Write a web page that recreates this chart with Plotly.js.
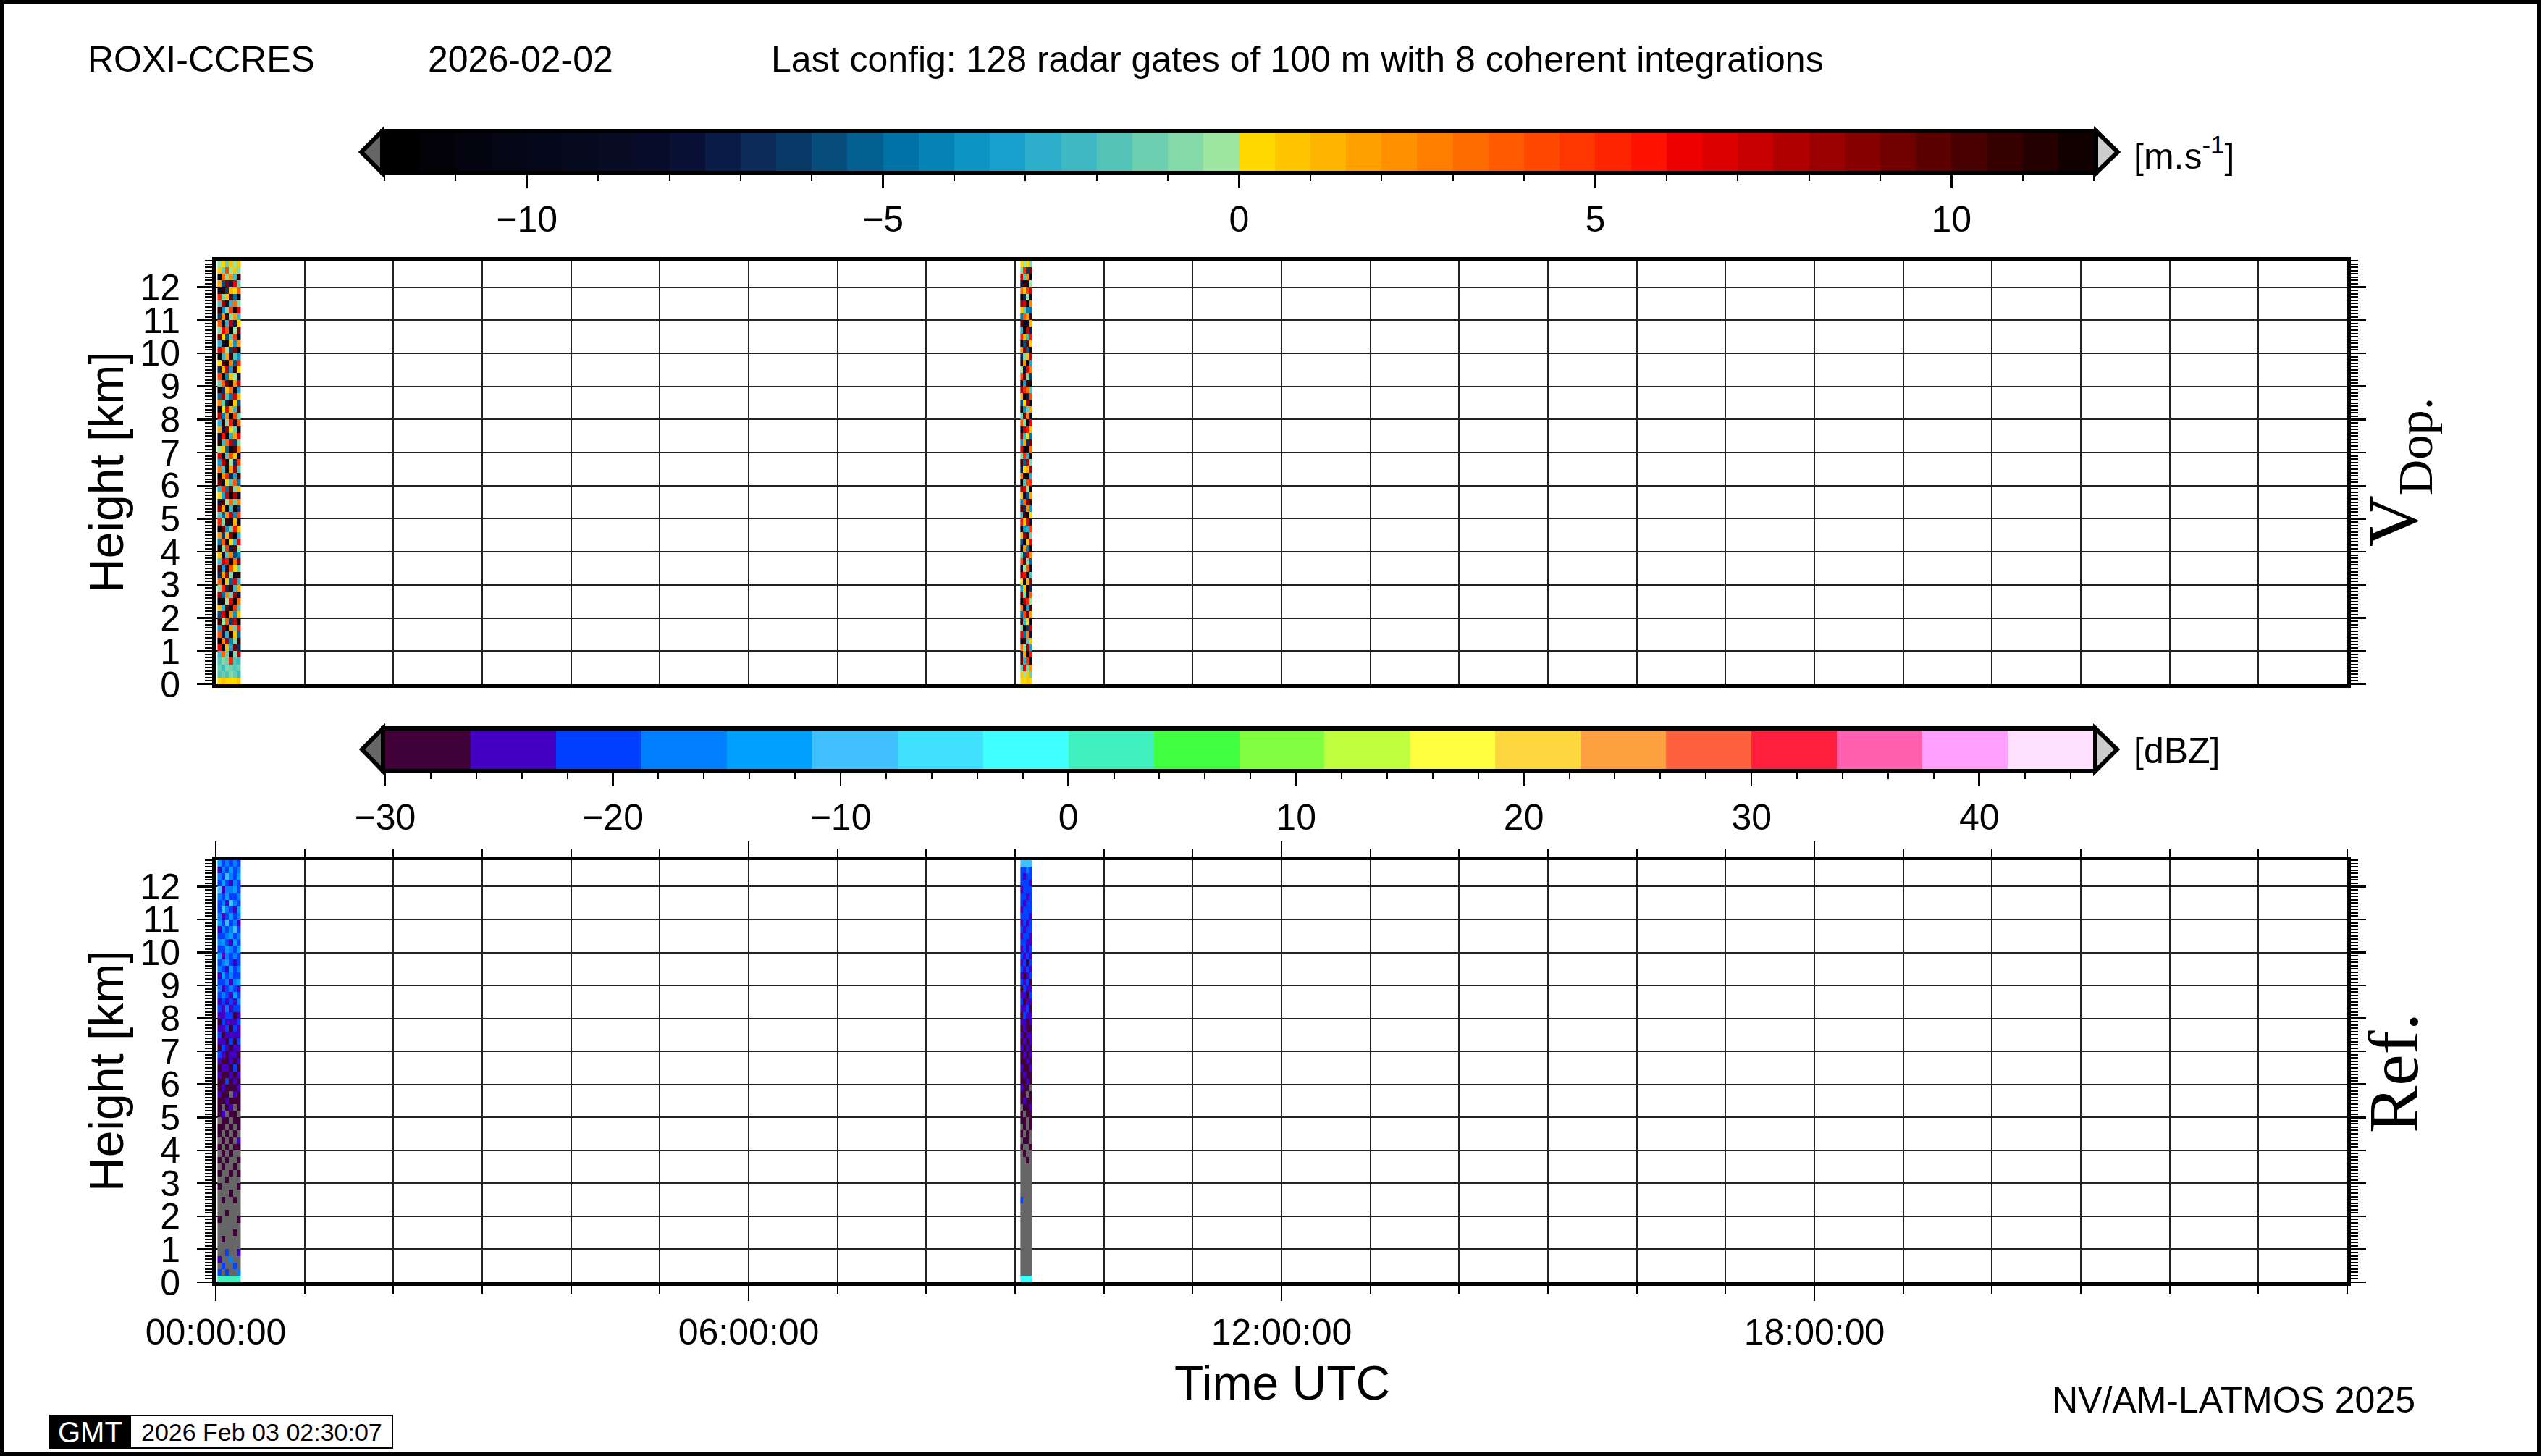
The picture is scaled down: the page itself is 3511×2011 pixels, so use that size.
<!DOCTYPE html>
<html>
<head>
<meta charset="utf-8">
<script src="https://cdn.plot.ly/plotly-3.0.1.min.js"></script>
<style>html,body{margin:0;padding:0;background:#fff;}#chart{width:3511px;height:2011px;}</style>
</head>
<body>
<div id="chart"></div>
<script>
// ---------------- DATA ----------------
const stationName = "ROXI-CCRES";
const dayLabel = "2026-02-02";
const configLabel = "Last config: 128 radar gates of 100 m with 8 coherent integrations";
const dayStart = "2026-02-02 00:00:00";
const dayEnd = "2026-02-03 00:00:00";
const timeTicks = ["2026-02-02 00:00:00","2026-02-02 06:00:00","2026-02-02 12:00:00","2026-02-02 18:00:00"];
const timeTickLabels = ["00:00:00","06:00:00","12:00:00","18:00:00"];

// velocity colour bins (0.5 m/s from -12 to 12)
const velBins = [-11.75,-11.25,-10.75,-10.25,-9.75,-9.25,-8.75,-8.25,-7.75,-7.25,-6.75,-6.25,-5.75,-5.25,-4.75,-4.25,-3.75,-3.25,-2.75,-2.25,-1.75,-1.25,-0.75,-0.25,
                 0.25,0.75,1.25,1.75,2.25,2.75,3.25,3.75,4.25,4.75,5.25,5.75,6.25,6.75,7.25,7.75,8.25,8.75,9.25,9.75,10.25,10.75,11.25,11.75];
const velColors = ["#000000","#020208","#03040f","#040615","#05081a","#060a1f","#070b24","#070c2a",
                   "#081035","#0a1c48","#0b2a58","#0a3b68","#074d7c","#036090","#0072a6","#0583b6",
                   "#0d93c4","#1aa0cc","#2eb0cc","#40b8c4","#55c4b8","#6bcfb0","#83daa8","#9de6a2",
                   "#ffd800","#ffc600","#ffb400","#ffa200","#ff9000","#ff7e00","#ff6c00","#ff5a00",
                   "#ff4800","#ff3600","#ff2400","#ff1200","#ee0000","#dc0000","#c80000","#b00000",
                   "#9a0000","#860000","#700000","#5c0000","#480000","#360000","#240000","#100000"];

// reflectivity colour bins (3.75 dBZ from -30 to 45), gray below range
const dbzBins = [-28.125,-24.375,-20.625,-16.875,-13.125,-9.375,-5.625,-1.875,1.875,5.625,9.375,13.125,16.875,20.625,24.375,28.125,31.875,35.625,39.375,43.125];
const dbzColors = ["#400038","#4200c0","#0040ff","#0080ff","#00a0ff","#40c0ff","#40e0ff","#40ffff","#40f0c0","#40ff40",
                   "#80ff40","#c0ff40","#ffff40","#ffd840","#ffa040","#ff6040","#ff2040","#ff60b0","#ffa0ff","#ffe0ff"];
const dbzBelowColor = "#666666";

// gate heights (km)
const heights = [0.1,0.3,0.5,0.7,0.9,1.1,1.3,1.5,1.7,1.9,2.1,2.3,2.5,2.7,2.9,3.1,3.3,3.5,3.7,3.9,4.1,4.3,4.5,4.7,4.9,5.1,5.3,5.5,5.7,5.9,6.1,6.3,
                 6.5,6.7,6.9,7.1,7.3,7.5,7.7,7.9,8.1,8.3,8.5,8.7,8.9,9.1,9.3,9.5,9.7,9.9,10.1,10.3,10.5,10.7,10.9,11.1,11.3,11.5,11.7,11.9,12.1,12.3,12.5,12.7];

// profile times
const timesA = ["2026-02-02 00:02:30","2026-02-02 00:05:06","2026-02-02 00:07:42","2026-02-02 00:10:18","2026-02-02 00:12:54","2026-02-02 00:15:30"];
const timesB = ["2026-02-02 09:04:36","2026-02-02 09:06:36","2026-02-02 09:08:36","2026-02-02 09:10:36"];

// Doppler velocity (m/s), rows = gates bottom->top
const velA = [
[0.3,0.6,0.2,0.4,0.1,0.7],[-1.6,-1.2,-1.8,-0.8,-1.4,-2.2],[-1.3,-2.1,-0.7,-1.5,-1.9,-1.1],[-1.8,-0.9,-1.4,5.2,-1.6,-2.4],
[-2.3,3.1,-1.2,-9.5,-0.6,7.8],[6.2,-10.4,1.3,-3.2,9.1,-6.8],[-11.2,2.7,7.5,-4.1,-0.8,10.6],[4.4,-7.3,-2.6,11.3,0.9,-5.5],
[-3.7,8.8,-9.9,1.8,-1.5,5.9],[10.2,-0.4,3.6,-6.1,7.1,-11.6],[-5.8,6.6,-11.1,2.2,-3.9,0.5],[1.1,-2.8,9.7,-8.4,4.8,-1.9],
[-9.2,11.8,-0.3,6.9,-10.7,3.3],[7.7,-4.6,2.9,-1.1,8.3,-7.9],[-0.9,5.3,-6.6,10.9,-2.4,1.6],[3.9,-11.9,0.7,-5.1,6.4,-3.0],
[-6.9,1.9,8.1,-0.6,-9.4,11.1],[9.6,-3.4,-7.8,4.1,0.2,-1.3],[-2.1,7.4,5.6,-10.1,3.1,8.7],[0.6,-8.9,-1.7,2.6,-5.9,-4.3],
[11.4,-1.0,4.6,-7.1,9.9,-0.2],[-4.8,3.8,-10.8,0.4,-2.9,6.1],[2.3,-6.3,1.4,8.6,-11.4,-2.7],[-10.3,9.3,-3.6,-1.4,5.5,0.8],
[5.1,-0.7,10.4,-8.1,1.2,-9.7],[-1.7,-5.2,2.1,6.7,-4.4,4.2],[8.4,1.5,-9.1,-2.2,11.7,-6.4],[-7.4,10.1,-0.5,3.4,-1.2,2.5],
[0.1,-3.1,6.8,-11.3,7.6,-8.6],[-2.6,4.9,-4.7,9.2,-0.9,1.0],[9.0,-9.6,0.3,-1.8,3.7,-5.0],[-11.5,2.0,5.0,-6.9,-3.3,10.0],
[3.2,-1.6,-8.2,1.7,8.0,-2.0],[-4.0,7.9,11.0,-0.1,-7.0,4.5],[6.0,-10.9,-1.9,4.3,0.6,-9.0],[-0.4,0.9,-5.4,-9.8,10.3,2.8],
[10.7,-2.3,3.0,7.3,-6.2,-0.6],[-8.0,5.7,-11.7,-2.8,1.9,6.5],[1.6,-7.7,8.4,0.0,-1.1,-10.2],[-3.0,11.2,-0.8,5.8,-8.8,3.6],
[7.2,-4.2,2.4,-10.6,4.0,-1.5],[-9.9,0.4,6.3,1.3,-2.5,9.5],[2.9,-1.3,-7.2,11.6,0.7,-6.0],[-5.3,8.2,-2.0,-4.6,6.9,1.4],
[11.9,-6.7,0.9,3.0,-11.0,-3.5],[-1.4,3.5,9.4,-8.7,2.0,7.0],[4.7,-11.4,-4.3,0.6,-0.3,-7.6],[-7.0,1.2,7.1,-3.7,10.8,0.3],
[0.2,9.8,-9.3,2.7,-5.6,5.3],[-10.6,-2.5,1.8,10.2,-1.9,-4.0],[6.6,4.4,-0.2,-6.3,8.9,-11.2],[-2.9,-8.3,11.5,0.8,-3.8,2.2],
[8.7,0.0,-5.9,-1.6,4.6,-8.1],[-0.6,6.2,3.9,-11.8,-0.4,9.2],[3.5,-9.0,-2.8,7.7,-7.3,0.1],[-6.5,2.3,10.6,-0.9,1.5,-2.3],
[10.0,-3.9,-1.0,4.9,-9.8,6.8],[-1.9,7.6,-8.5,-2.6,3.3,-0.7],[5.4,-0.8,0.5,9.6,-4.9,-10.4],[-8.4,11.0,-6.1,1.1,0.4,3.9],
[1.9,-5.6,8.9,-7.5,6.1,-1.2],[-11.0,3.2,-0.6,2.4,-2.1,10.9],[0.8,-1.5,4.2,-0.3,0.6,-0.9],[-0.5,0.4,-1.1,0.9,-0.2,0.5]];
const velB = [
[0.4,0.2,0.6,0.3],[0.5,-0.3,0.8,-1.2],[-1.4,6.1,-0.9,2.4],[9.3,-2.6,4.7,-10.5],[-7.2,1.6,-11.3,5.6],[3.0,-0.5,8.2,-3.4],
[-9.8,10.7,-1.8,0.9],[6.4,-4.9,2.8,-8.0],[-0.7,11.6,-6.5,7.3],[10.9,-2.2,0.3,-11.1],[-5.0,4.1,9.0,1.9],[2.6,-9.4,-3.1,10.2],
[-11.6,7.9,5.2,-0.4],[8.5,-1.0,-7.6,3.7],[-3.3,0.6,11.2,-6.8],[0.2,-10.0,1.4,8.8],[7.0,5.5,-9.2,-2.0],[-8.7,-0.1,3.5,11.8],
[4.3,9.6,-0.8,-5.3],[-1.5,-6.2,7.4,2.2],[11.1,2.0,-4.5,-9.6],[-6.0,-11.5,0.7,6.0],[1.3,8.0,10.0,-1.1],[-10.1,-3.6,-2.7,4.6],
[5.8,0.9,6.6,-7.9],[-2.4,10.3,-11.0,0.0],[9.7,-7.0,2.0,-3.9],[-4.4,3.3,8.7,10.6],[0.5,-8.5,-5.8,1.5],[7.8,6.7,-0.3,-10.8],
[-11.9,-1.7,4.0,5.1],[2.7,11.4,-9.9,-2.9],[-7.5,0.3,1.0,8.1],[10.4,-5.1,7.6,-0.6],[-0.9,4.8,-3.0,-11.4],[6.9,-10.3,11.0,3.1],
[-3.8,1.8,-6.9,9.4],[8.9,-2.4,0.4,-4.7],[-9.1,7.2,5.9,0.8],[3.6,-0.6,-10.6,6.3],[-1.2,9.1,2.5,-8.3],[11.7,-4.0,-1.4,1.7],
[-5.7,0.1,8.4,-9.7],[1.0,-11.0,-7.3,4.4],[7.5,5.2,3.2,-1.9],[-8.9,-3.2,10.5,11.3],[4.0,9.9,-0.7,-6.4],[-0.3,-7.8,6.1,2.9],
[10.8,2.4,-11.8,-3.3],[-6.6,-0.9,0.6,7.9],[2.1,8.6,-5.5,-10.0],[-10.7,-5.9,9.8,0.5],[5.3,1.1,-2.1,5.7],[-2.8,11.9,7.0,-7.1],
[9.2,-9.5,-8.6,1.2],[-4.9,3.9,1.9,10.1],[0.7,-1.3,-4.2,-5.0],[8.0,6.5,11.5,2.6],[-11.3,-6.7,-0.5,-8.8],[3.4,0.7,4.9,6.7],
[-7.9,10.5,-9.0,-0.2],[6.5,-2.0,2.3,-11.7],[-1.0,4.5,-6.3,8.5],[0.3,-0.4,0.1,-0.8]];

// Reflectivity (dBZ), rows = gates bottom->top ; -35 = below -30 (gray)
const refA = [
[2.5,1.8,3.0,2.2,1.5,2.8],[-20,-35,-22,-35,-35,-18],[-35,-21,-35,-35,-19,-35],[-23,-35,-35,-17,-35,-35],
[-35,-35,-20,-35,-35,-24],[-35,-35,-35,-35,-35,-35],[-35,-29,-35,-35,-35,-35],[-35,-35,-35,-35,-28,-35],
[-35,-35,-35,-35,-35,-35],[-28,-35,-35,-35,-35,-29],[-35,-35,-29,-35,-35,-35],[-35,-35,-35,-35,-35,-35],
[-35,-28,-35,-35,-29,-35],[-35,-35,-35,-28,-35,-35],[-29,-35,-35,-35,-35,-28],[-35,-35,-28,-35,-35,-35],
[-28,-35,-35,-29,-35,-28],[-35,-28,-35,-35,-28,-35],[-29,-35,-28,-35,-35,-29],[-35,-28,-35,-28,-35,-35],
[-28,-35,-29,-35,-28,-28],[-35,-29,-35,-28,-35,-25],[-28,-35,-28,-35,-29,-35],[-29,-28,-35,-28,-35,-28],
[-35,-28,-27,-35,-28,-29],[-28,-25,-35,-28,-28,-35],[-27,-35,-28,-24,-35,-28],[-28,-28,-25,-28,-28,-27],
[-25,-28,-28,-35,-24,-28],[-28,-24,-28,-27,-28,-25],[-27,-28,-21,-28,-25,-28],[-24,-27,-28,-25,-28,-24],
[-28,-25,-24,-28,-20,-28],[-25,-28,-27,-24,-28,-25],[-21,-24,-28,-25,-24,-28],[-28,-20,-25,-28,-25,-24],
[-24,-25,-28,-21,-28,-20],[-20,-28,-24,-25,-24,-25],[-25,-24,-20,-28,-21,-24],[-28,-21,-25,-24,-25,-20],
[-24,-25,-20,-21,-28,-24],[-20,-24,-17,-25,-20,-21],[-25,-20,-24,-20,-24,-17],[-21,-17,-20,-24,-14,-20],
[-17,-24,-21,-17,-20,-24],[-20,-21,-17,-24,-17,-14],[-24,-14,-20,-17,-21,-20],[-17,-20,-24,-14,-20,-17],
[-20,-17,-14,-20,-24,-21],[-14,-24,-17,-21,-17,-20],[-21,-20,-14,-17,-20,-14],[-17,-14,-21,-24,-14,-20],
[-20,-21,-17,-14,-20,-17],[-24,-17,-20,-17,-11,-20],[-14,-20,-11,-21,-17,-24],[-17,-24,-20,-14,-20,-17],
[-20,-11,-17,-20,-24,-14],[-21,-17,-24,-11,-17,-20],[-17,-20,-14,-20,-21,-17],[-11,-24,-17,-17,-14,-21],
[-20,-14,-21,-24,-17,-20],[-17,-21,-11,-17,-20,-14],[-24,-17,-20,-14,-21,-17],[-14,-20,-17,-21,-17,-20]];
const refB = [
[-2,-1,-2.5,-1.5],[-35,-35,-35,-35],[-35,-35,-35,-35],[-35,-35,-35,-35],[-35,-35,-35,-35],[-35,-35,-35,-35],
[-35,-35,-35,-35],[-35,-35,-35,-35],[-35,-35,-35,-35],[-35,-35,-35,-35],[-35,-35,-35,-35],[-35,-35,-35,-35],
[-20,-35,-35,-35],[-35,-35,-35,-35],[-35,-35,-35,-35],[-35,-35,-35,-35],[-35,-35,-35,-35],[-35,-35,-35,-35],
[-35,-35,-28,-35],[-35,-28,-35,-35],[-28,-35,-35,-28],[-35,-28,-28,-35],[-28,-35,-28,-35],[-35,-28,-35,-28],
[-28,-28,-35,-28],[-28,-35,-28,-28],[-35,-28,-28,-25],[-28,-25,-28,-28],[-28,-28,-35,-28],[-25,-28,-28,-35],
[-28,-28,-25,-28],[-28,-25,-28,-28],[-25,-28,-28,-25],[-28,-28,-25,-28],[-28,-25,-28,-25],[-25,-28,-25,-28],
[-28,-25,-28,-25],[-25,-28,-25,-25],[-28,-25,-28,-28],[-25,-25,-28,-25],[-28,-21,-25,-25],[-25,-25,-21,-28],
[-21,-28,-25,-25],[-25,-25,-28,-21],[-28,-21,-25,-25],[-21,-25,-21,-28],[-25,-28,-25,-21],[-21,-25,-21,-25],
[-25,-21,-28,-21],[-21,-25,-21,-25],[-25,-21,-25,-21],[-21,-21,-25,-25],[-25,-21,-21,-25],[-21,-25,-21,-21],
[-25,-21,-25,-21],[-21,-21,-21,-25],[-25,-21,-21,-21],[-21,-25,-21,-21],[-21,-21,-25,-21],[-25,-21,-21,-21],
[-21,-21,-21,-25],[-21,-25,-21,-21],[-21,-21,-17,-21],[-10,-11,-9,-10]];

// ---------------- BUILD ----------------
const W = 3511, H = 2011;
const px = x => x / W;
const py = y => 1 - y / H;
function stepScale(colors){ const n = colors.length, s = []; colors.forEach((c,i)=>{ s.push([i/n,c]); s.push([(i+1)/n,c]); }); return s; }
const velScale = stepScale(velColors);
const dbzScale = stepScale([dbzBelowColor].concat(dbzColors));
const VMIN = -12, VMAX = 12, DMIN = -33.75, DMAX = 45;

const FONT = "Liberation Sans, Arial, Helvetica, sans-serif";
const SERIF = "Liberation Serif, Times New Roman, serif";

const hm = (x, z, xa, ya, scale, zmin, zmax) => ({type:'heatmap', x:x, y:heights, z:z, xaxis:xa, yaxis:ya,
  colorscale:scale, zmin:zmin, zmax:zmax, showscale:false, hoverinfo:'skip', zsmooth:false});

const traces = [
  hm(timesA, velA, 'x', 'y', velScale, VMIN, VMAX),
  hm(timesB, velB, 'x', 'y', velScale, VMIN, VMAX),
  hm(timesA, refA, 'x2', 'y2', dbzScale, DMIN, DMAX),
  hm(timesB, refB, 'x2', 'y2', dbzScale, DMIN, DMAX),
  {type:'heatmap', x:velBins, z:[velBins], xaxis:'x3', yaxis:'y3', colorscale:velScale, zmin:VMIN, zmax:VMAX, showscale:false, hoverinfo:'skip'},
  {type:'heatmap', x:dbzBins, z:[dbzBins], xaxis:'x4', yaxis:'y4', colorscale:dbzScale, zmin:DMIN, zmax:DMAX, showscale:false, hoverinfo:'skip'}
];

const GRID = '#222222';
const panelX = (anchor, showLabels) => ({
  type:'date', anchor:anchor, domain:[px(298), px(3242)], range:[dayStart, dayEnd],
  showline:true, linewidth:5, linecolor:'black', mirror: showLabels ? 'allticks' : true,
  tickmode:'array', tickvals:timeTicks, ticktext:timeTickLabels,
  ticks: showLabels ? 'outside' : '', ticklen:21, tickwidth:2.5, tickcolor:'black',
  showticklabels: showLabels, tickfont:{family:FONT, size:50, color:'black'}, ticklabelstandoff:0,
  showgrid:true, gridcolor:GRID, gridwidth:2, zeroline:false,
  minor:{tickmode:'linear', tick0:dayStart, dtick:3600000, showgrid:true, gridcolor:GRID, gridwidth:2,
         ticks: showLabels ? 'outside' : '', ticklen:11, tickwidth:2, tickcolor:'black'},
  fixedrange:true
});
const panelY = (anchor, dom) => ({
  anchor:anchor, domain:dom, range:[0,12.8], tick0:0, dtick:1,
  showline:true, linewidth:5, linecolor:'black', mirror:'allticks',
  ticks:'outside', ticklen:21, tickwidth:2.5, tickcolor:'black',
  tickfont:{family:FONT, size:50, color:'black'}, ticklabelstandoff:13,
  showgrid:true, gridcolor:GRID, gridwidth:2, zeroline:false,
  minor:{dtick:0.1, ticks:'outside', ticklen:10, tickwidth:2, tickcolor:'black', showgrid:false},
  fixedrange:true
});
const barX = (anchor, dom, range, dtick, mdtick) => ({
  anchor:anchor, domain:dom, range:range, tickmode:'linear', tick0:0, dtick:dtick,
  showline:true, linewidth:6, linecolor:'black', mirror:true,
  ticks:'outside', ticklen:18, tickwidth:2.5, tickcolor:'black',
  tickfont:{family:FONT, size:50, color:'black'}, ticklabelstandoff:0,
  showgrid:false, zeroline:false,
  minor:{dtick:mdtick, ticks:'outside', ticklen:8, tickwidth:2, tickcolor:'black', showgrid:false},
  fixedrange:true
});
const barY = (anchor, dom) => ({anchor:anchor, domain:dom, range:[-0.5,0.5], showline:true, linewidth:6, linecolor:'black', mirror:true,
  ticks:'', showticklabels:false, showgrid:false, zeroline:false, fixedrange:true});

const tri = (pts, fill) => ({type:'path', xref:'paper', yref:'paper',
  path: 'M ' + pts.map(p => px(p[0]) + ',' + py(p[1])).join(' L ') + ' Z',
  fillcolor:fill, line:{color:'black', width:6}, layer:'above'});

const ann = (text, x, y, size, opts) => Object.assign({text:text, x:px(x), y:py(y), xref:'paper', yref:'paper',
  showarrow:false, xanchor:'left', yanchor:'middle', font:{family:FONT, size:size, color:'black'}}, opts || {});

const layout = {
  width:W, height:H, margin:{l:0, r:0, t:0, b:0}, paper_bgcolor:'white', plot_bgcolor:'white',
  font:{family:FONT, size:50, color:'black'}, showlegend:false,
  xaxis: panelX('y', false),
  yaxis: panelY('x', [py(945), py(360)]),
  xaxis2: panelX('y2', true),
  yaxis2: panelY('x2', [py(1771), py(1188)]),
  xaxis3: barX('y3', [px(531), px(2892)], [VMIN, VMAX], 5, 1),
  yaxis3: barY('x3', [py(236), py(184)]),
  xaxis4: barX('y4', [px(532), px(2891)], [-30, 45], 10, 2),
  yaxis4: barY('x4', [py(1062), py(1009)]),
  shapes: [
    {type:'rect', xref:'paper', yref:'paper', x0:px(3), x1:px(3507), y0:py(3), y1:py(2008), line:{color:'black', width:6}, fillcolor:'rgba(0,0,0,0)'},
    tri([[528,181],[499,210],[528,239]], '#666666'),
    tri([[2895,181],[2925,210],[2895,239]], '#cccccc'),
    tri([[529,1006],[500,1035],[529,1065]], '#666666'),
    tri([[2894,1006],[2924,1035],[2894,1065]], '#cccccc'),
    {type:'rect', xref:'paper', yref:'paper', x0:px(69), x1:px(180), y0:py(2000), y1:py(1955), fillcolor:'black', line:{color:'black', width:2}},
    {type:'rect', xref:'paper', yref:'paper', x0:px(180), x1:px(542), y0:py(2000), y1:py(1955), fillcolor:'white', line:{color:'black', width:2}}
  ],
  annotations: [
    ann(stationName, 119, 82, 50),
    ann(dayLabel, 589, 82, 50),
    ann(configLabel, 1063, 82, 50),
    ann('[m.s<sup>-1</sup>]', 2945, 212, 50),
    ann('[dBZ]', 2945, 1037, 50),
    ann('Height [km]', 147, 652, 66, {xanchor:'center', textangle:-90}),
    ann('Height [km]', 147, 1479, 66, {xanchor:'center', textangle:-90}),
    ann('V<sub>Dop.</sub>', 3312, 652, 98, {xanchor:'center', textangle:-90, font:{family:SERIF, size:98, color:'black'}}),
    ann('Ref.', 3306, 1482, 98, {xanchor:'center', textangle:-90, font:{family:SERIF, size:98, color:'black'}}),
    ann('Time UTC', 1771, 1910, 66, {xanchor:'center'}),
    ann('NV/AM-LATMOS 2025', 3338, 1934, 50, {xanchor:'right'}),
    ann('GMT', 124, 1978, 40, {xanchor:'center', font:{family:FONT, size:40, color:'white'}}),
    ann('2026 Feb 03 02:30:07', 361, 1978, 34, {xanchor:'center'})
  ]
};

Plotly.newPlot('chart', traces, layout, {staticPlot:true, displayModeBar:false});
</script>
</body>
</html>
